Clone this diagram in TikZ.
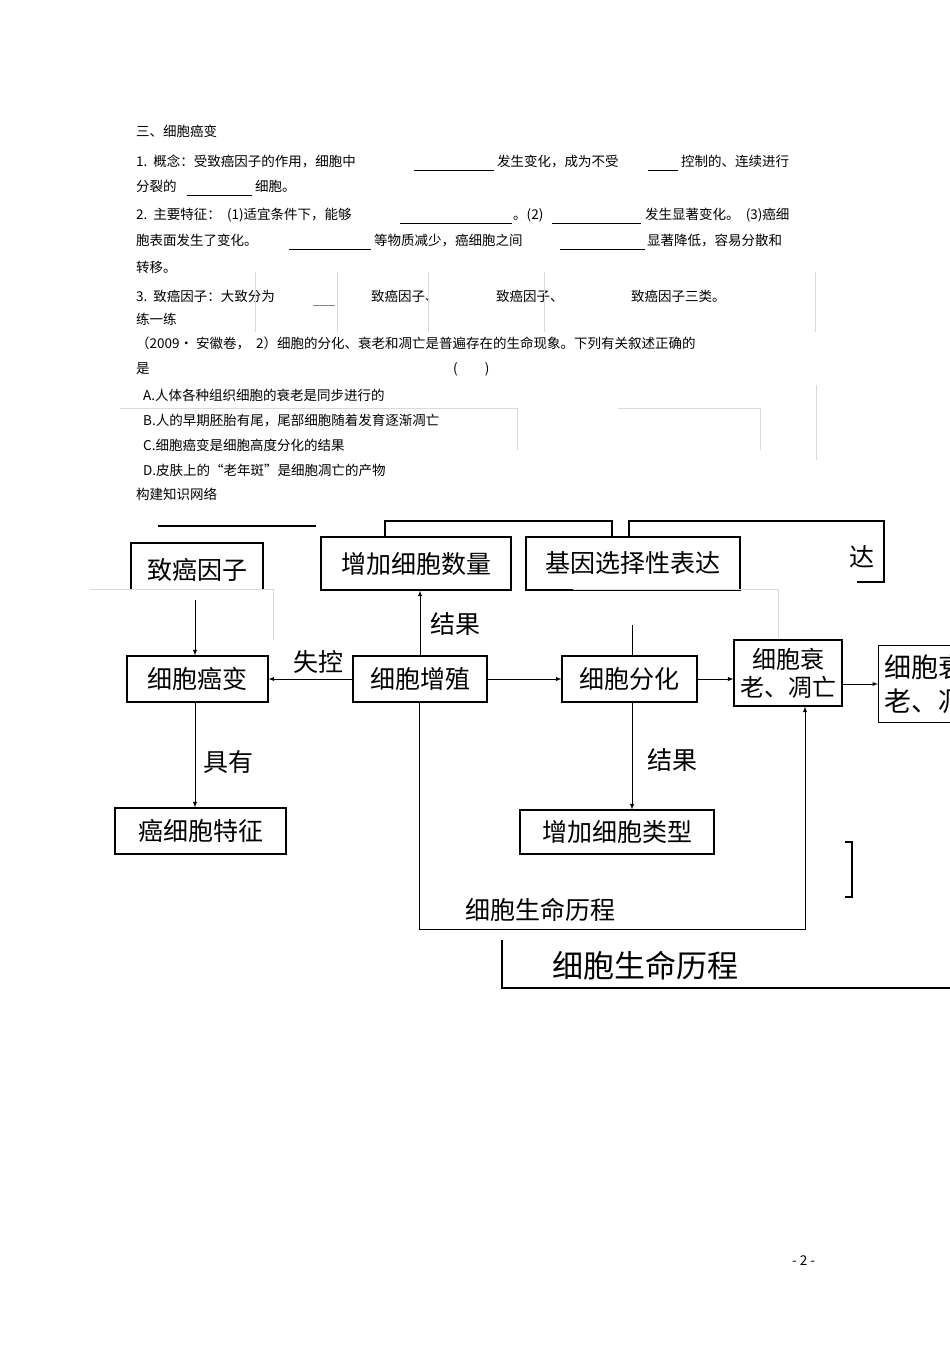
\documentclass[tikz,border=0pt]{standalone}
\usepackage{fontspec}
\setmainfont{Noto Sans CJK SC}
\begin{document}
\begin{tikzpicture}[x=1pt,y=-1pt,
 t/.style={anchor=base west,inner sep=0,font=\fontsize{13.5}{13.5}\selectfont},
 ul/.style={line width=0.7pt},
 bx/.style={draw,line width=1.1pt,inner sep=0,font=\fontsize{25}{25}\selectfont},
 lb/.style={inner sep=0,font=\fontsize{25}{25}\selectfont},
 ar/.style={-latex,line width=0.9pt},
 ln/.style={line width=1.1pt},
 fa/.style={gray!30,line width=0.6pt}]
\useasboundingbox (0,0) rectangle (950,1345);
\fill[white] (0,0) rectangle (950,1345);
% text block
\node[t] (h) at (136,136) {三、细胞癌变};
\node[t] (l1a) at (136,166) {1.\ \ 概念：受致癌因子的作用，细胞中};
\draw[ul] (414,170) -- (494,170);
\node[t] (l1b) at (497,166) {发生变化，成为不受};
\draw[ul] (648,170) -- (678,170);
\node[t] (l1c) at (681,166) {控制的、连续进行};
\node[t] (l2a) at (136,191) {分裂的};
\draw[ul] (187,195) -- (252,195);
\node[t] (l2b) at (255,191) {细胞。};
\node[t] (l3a) at (136,219) {2.\ \ 主要特征：\ \ (1)适宜条件下，能够};
\draw[ul] (400,223) -- (512,223);
\node[t] (l3b) at (513,219) {。(2)};
\draw[ul] (552,223) -- (641,223);
\node[t] (l3c) at (645,219) {发生显著变化。\ \ (3)癌细};
\node[t] (l4a) at (136,245) {胞表面发生了变化。};
\draw[ul] (289,249) -- (371,249);
\node[t] (l4b) at (374,245) {等物质减少，癌细胞之间};
\draw[ul] (560,249) -- (645,249);
\node[t] (l4c) at (647,245) {显著降低，容易分散和};
\node[t] (l5) at (136,272) {转移。};
\node[t] (l6a) at (136,301) {3.\ \ 致癌因子：大致分为};
\draw[gray,line width=1pt] (313,305) -- (335,305);
\node[t] (l6b) at (371,301) {致癌因子、};
\node[t] (l6c) at (496,301) {致癌因子、};
\node[t] (l6d) at (631,301) {致癌因子三类。};
\foreach \x in {255,337,428,544,815} \draw[fa] (\x,272) -- (\x,332);
\node[t] (l7) at (136,324) {练一练};
\node[t] (l8) at (136,348) {（2009· 安徽卷，\ \ 2）细胞的分化、衰老和凋亡是普遍存在的生命现象。下列有关叙述正确的};
\node[t] (l9a) at (136,373) {是};
\node[t] (l9b) at (453,373) {(\qquad)};
\node[t] (oa) at (143,400) {A.人体各种组织细胞的衰老是同步进行的};
\node[t] (ob) at (143,425) {B.人的早期胚胎有尾，尾部细胞随着发育逐渐凋亡};
\node[t] (oc) at (143,450) {C.细胞癌变是细胞高度分化的结果};
\node[t] (od) at (143,475) {D.皮肤上的“老年斑”是细胞凋亡的产物};
\draw[fa] (120,408) -- (517,408) -- (517,450);
\draw[fa] (618,408) -- (760,408) -- (760,450);
\draw[fa] (816,385) -- (816,460);
\node[t] (l10) at (136,499) {构建知识网络};
\node[t] (pg) at (792,1265) {- 2 -};
% diagram
\draw[ln] (158,526) -- (316,526);
\draw[ln] (385,537) -- (385,521) -- (612,521) -- (612,537);
\draw[ln] (629,537) -- (629,521) -- (884,521) -- (884,582) -- (857,582);
\node[lb] (da) at (862,557) {达};
\draw[ln] (131,590) -- (131,543) -- (263,543) -- (263,590);
\node[lb] (zy) at (197,570) {致癌因子};
\node[bx,minimum width=190,minimum height=53] (sl) at (416,563.5) {增加细胞数量};
\node[bx,minimum width=214,minimum height=53] (jy) at (633,563.5) {基因选择性表达};
\draw[fa] (90,589) -- (273,589) -- (273,640);
\draw[fa] (573,589) -- (778,589) -- (778,640);
\node[bx,minimum width=141,minimum height=46] (ab) at (197.5,679) {细胞癌变};
\node[bx,minimum width=134,minimum height=46] (zz) at (420,679) {细胞增殖};
\node[bx,minimum width=135,minimum height=46] (fh) at (629.5,679) {细胞分化};
\node[bx,minimum width=108,minimum height=66,align=center,font=\fontsize{24}{28}\selectfont] (sl2) at (788,673) {细胞衰\\老、凋亡};
\begin{scope}
\clip (870,600) rectangle (950,760);
\node[bx,minimum width=120,minimum height=77,align=left,anchor=west,font=\fontsize{27}{34}\selectfont] (sl3) at (878,684) {细胞衰\\老、凋亡};
\end{scope}
\coordinate (zt) at (195,600);
\draw[ar] (zt) -- (ab.north-|zt);
\draw[ar] (zz) -- (ab);
\node[lb] (sk) at (318,662) {失控};
\draw[ar] (zz.north) -- (sl.south-|zz.north);
\node[lb] (jg1) at (455,624) {结果};
\draw[ar] (zz) -- (fh);
\draw[ar] (fh) -- (sl2.west|-fh);
\coordinate (ft) at (632,625);
\draw[line width=0.9pt] (fh.north-|ft) -- (ft);
\draw[ar] (sl2.east|-sl3.west) -- (sl3.west);
\node[bx,minimum width=171,minimum height=46] (tz) at (200.5,831) {癌细胞特征};
\draw[ar] (ab.south-|zt) -- (tz.north-|zt);
\node[lb] (jy2) at (228,762) {具有};
\node[bx,minimum width=194,minimum height=44] (lx) at (617,832) {增加细胞类型};
\draw[ar] (fh.south-|ft) -- (lx.north-|ft);
\node[lb] (jg2) at (672,760) {结果};
\coordinate (c1) at (419,929);
\coordinate (c2) at (805,929);
\draw[ar] (zz.south-|c1) -- (c1) -- (c2) -- (sl2.south-|c2);
\node[lb] (lc) at (540,910) {细胞生命历程};
\draw[ln] (845,842) -- (852,842) -- (852,897) -- (845,897);
\draw[ln] (502,940) -- (502,988) -- (950,988);
\node[lb,font=\fontsize{31}{31}\selectfont] (lc2) at (645,966) {细胞生命历程};
\end{tikzpicture}
\end{document}
